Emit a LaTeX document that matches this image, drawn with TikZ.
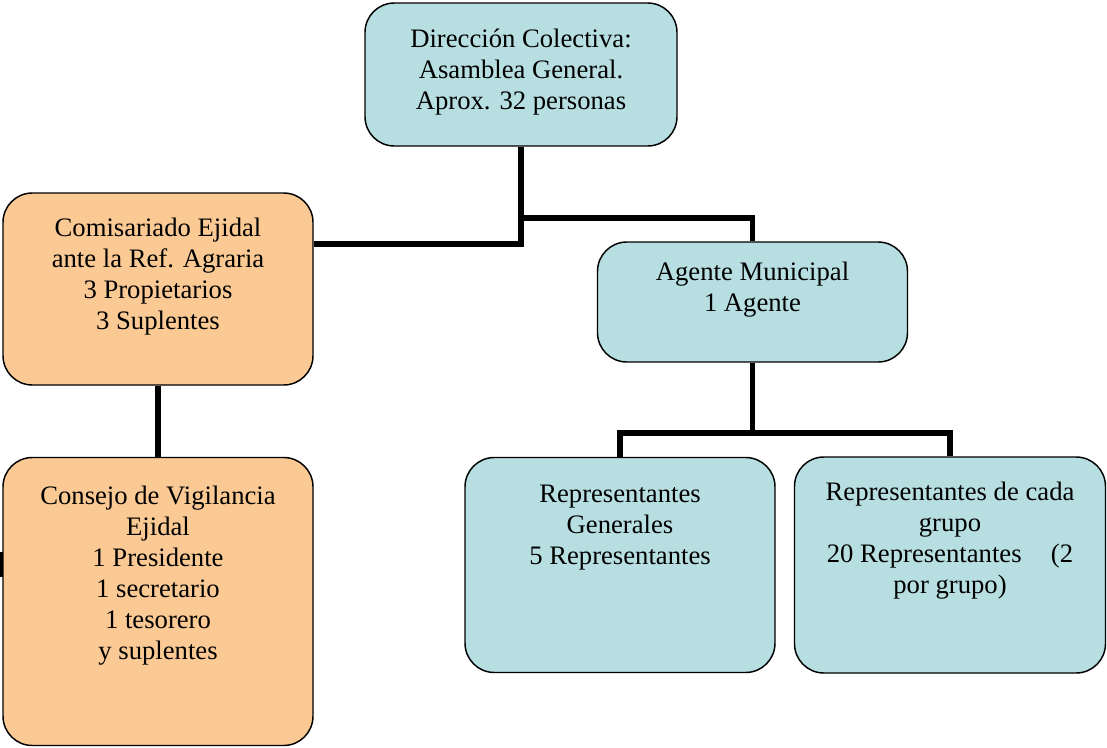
\documentclass[tikz,border=0pt]{standalone}
\usepackage{fontspec}
\setmainfont{Liberation Serif}
\usetikzlibrary{backgrounds}
\definecolor{boxblue}{RGB}{183,222,225}
\definecolor{boxorange}{RGB}{251,202,148}
\tikzset{
  box/.style={draw=black, line width=1.1pt, rounded corners=22pt, inner sep=0pt},
  bluebox/.style={box, fill=boxblue},
  orangebox/.style={box, fill=boxorange},
  txt/.style={anchor=north, align=center, inner sep=0pt, font={\fontsize{20}{23.25}\selectfont}},
  conn/.style={draw=black, line width=4.4pt, line join=miter}
}
\newcommand{\fst}{\rule{0pt}{16pt}}
\begin{document}
\begin{tikzpicture}[x=0.75pt,y=-0.75pt]
\useasboundingbox (0,0) rectangle (1107,747);
% boxes
\node[bluebox, minimum width=234pt, minimum height=107.25pt] (b1) at (521,74.5) {};
\node[orangebox, minimum width=232.5pt, minimum height=144pt] (b2) at (158,289) {};
\node[bluebox, minimum width=232.5pt, minimum height=90pt] (b3) at (752.5,302) {};
\node[orangebox, minimum width=232.5pt, minimum height=216pt] (b4) at (158,601.5) {};
\node[bluebox, minimum width=232.5pt, minimum height=161.25pt] (b5) at (620,565) {};
\node[bluebox, minimum width=233.25pt, minimum height=162pt] (b6) at (950,565) {};
% texts
\node[txt] (t1) at ([yshift=-17.75pt]b1.north) {\fst Dirección Colectiva:\\Asamblea General.\\Aprox. 32 personas};
\node[txt] (t2) at ([yshift=-17pt]b2.north) {\fst Comisariado Ejidal\\ante la Ref. Agraria\\3 Propietarios\\3 Suplentes};
\node[txt] (t3) at ([yshift=-13.25pt]b3.north) {\fst Agente Municipal\\1 Agente};
\node[txt] (t4) at ([yshift=-19.25pt]b4.north) {\fst Consejo de Vigilancia\\Ejidal\\1 Presidente\\1 secretario\\1 tesorero\\y suplentes};
\node[txt] (t5) at ([yshift=-17.75pt]b5.north) {\fst Representantes\\Generales\\5 Representantes};
\node[txt] (t6) at ([yshift=-17pt]b6.north) {\fst Representantes de cada\\grupo\\20 Representantes\hspace{22pt}(2\\por grupo)};
% connectors
\coordinate (j1) at (521,218);
\coordinate (j2) at (521,244);
\coordinate (j3) at (752.5,433);
\coordinate (k1) at (1.5,552);
\coordinate (k2) at (1.5,577);
\begin{pgfonlayer}{background}
\draw[conn] (b1.south) -- (j2) -- (j2 -| b2.east);
\draw[conn] (j1) -| (b3.north);
\draw[conn] (b2.south) -- (b4.north);
\draw[conn] (b3.south) -- (j3);
\draw[conn] (b5.north) |- (j3) -| (b6.north);
\draw[draw=black, line width=2.25pt] (k1) -- (k2);
\end{pgfonlayer}
\end{tikzpicture}
\end{document}
